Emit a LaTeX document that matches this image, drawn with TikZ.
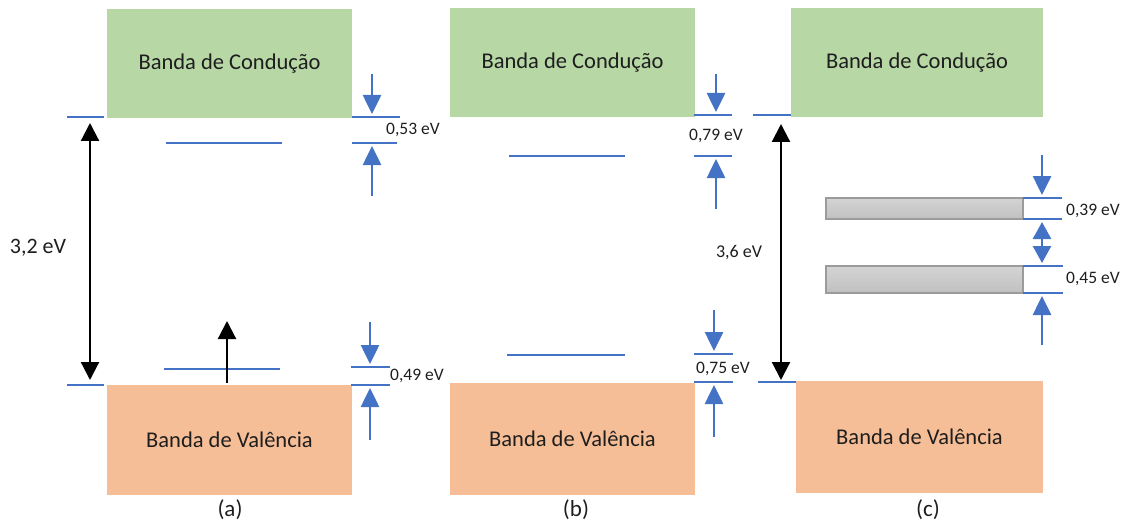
\documentclass[tikz,border=0pt]{standalone}
\usepackage{fontspec}
\setmainfont{Carlito}
\usetikzlibrary{arrows.meta}
\definecolor{cgreen}{RGB}{183,215,165}
\definecolor{corange}{RGB}{246,190,151}
\definecolor{cblue}{RGB}{68,114,196}
\definecolor{cgraytop}{RGB}{212,212,212}
\definecolor{cgraybot}{RGB}{192,192,192}
\definecolor{cgrayline}{RGB}{155,155,155}
\definecolor{ctext}{RGB}{30,30,30}
\begin{document}
\begin{tikzpicture}[x=1pt,y=-1pt,
  band/.style={draw=none,inner sep=0pt,outer sep=0pt,anchor=north west,
    text=ctext,font=\fontsize{22.5}{26}\selectfont},
  cband/.style={band,fill=cgreen},
  vband/.style={band,fill=corange},
  lvl/.style={cblue,line width=2.6pt},
  barrow/.style={cblue,line width=2.6pt,-{Triangle[width=18pt,length=19pt]}},
  karrow/.style={black,line width=2.2pt,-{Triangle[width=18pt,length=18pt]}},
  kdarrow/.style={black,line width=2.2pt,{Triangle[width=18pt,length=18pt]}-{Triangle[width=18pt,length=18pt]}},
  bdarrow/.style={cblue,line width=2.6pt,{Triangle[width=18pt,length=17pt]}-{Triangle[width=18pt,length=17pt]}},
  gaptxt/.style={text=ctext,font=\fontsize{17.5}{20}\selectfont,inner sep=0pt},
  bigtxt/.style={text=ctext,font=\fontsize{22}{26}\selectfont,inner sep=0pt},
  captxt/.style={text=ctext,font=\fontsize{23}{26}\selectfont,inner sep=0pt},
  barbox/.style={draw=cgrayline,line width=2pt,top color=cgraytop,bottom color=cgraybot,
    inner sep=0pt,outer sep=0pt,anchor=north west,minimum width=197pt,minimum height=21pt}
]
\path[use as bounding box] (0,0) rectangle (1124,524);

% ---------- (a) ----------
\node[cband,minimum width=245pt,minimum height=109pt] (ca) at (107,9) {Banda de Condução};
\node[vband,minimum width=245pt,minimum height=110pt] (va) at (107,385) {Banda de Valência};
\coordinate (atl1) at (67,117); \coordinate (atl2) at (104,117);
\coordinate (abl1) at (67,385); \coordinate (abl2) at (104,385);
\draw[lvl] (atl1) -- (atl2);
\draw[lvl] (abl1) -- (abl2);
\coordinate (agt) at (90,123); \coordinate (agb) at (90,380);
\draw[kdarrow] (agt) -- (agb);
\node[bigtxt] (lga) at (38,248) {3,2 eV};
\coordinate (ad1a) at (166,143); \coordinate (ad1b) at (282,143);
\coordinate (ad2a) at (164,369); \coordinate (ad2b) at (280,369);
\draw[lvl] (ad1a) -- (ad1b);
\draw[lvl] (ad2a) -- (ad2b);
\coordinate (aex0) at (227,383); \coordinate (aex1) at (227,321);
\draw[karrow] (aex0) -- (aex1);
% right scale, top
\coordinate (ar1a) at (352,117); \coordinate (ar1b) at (400,117);
\coordinate (ar2a) at (352,143); \coordinate (ar2b) at (397,143);
\draw[lvl] (ar1a) -- (ar1b);
\draw[lvl] (ar2a) -- (ar2b);
\coordinate (aa1s) at (372,74);  \coordinate (aa1e) at (372,114);
\coordinate (aa2s) at (372,196); \coordinate (aa2e) at (372,146);
\draw[barrow] (aa1s) -- (aa1e);
\draw[barrow] (aa2s) -- (aa2e);
\node[gaptxt] (la53) at (413,130) {0,53 eV};
% right scale, bottom
\coordinate (ar3a) at (351,367); \coordinate (ar3b) at (390,367);
\coordinate (ar4a) at (351,385); \coordinate (ar4b) at (390,385);
\draw[lvl] (ar3a) -- (ar3b);
\draw[lvl] (ar4a) -- (ar4b);
\coordinate (aa3s) at (370,322); \coordinate (aa3e) at (370,364);
\coordinate (aa4s) at (370,440); \coordinate (aa4e) at (370,388);
\draw[barrow] (aa3s) -- (aa3e);
\draw[barrow] (aa4s) -- (aa4e);
\node[gaptxt] (la49) at (417,376) {0,49 eV};
\node[captxt] (capa) at (230,510) {(a)};

% ---------- (b) ----------
\node[cband,minimum width=245pt,minimum height=109pt] (cb) at (450,8) {Banda de Condução};
\node[vband,minimum width=245pt,minimum height=112pt] (vb) at (450,383) {Banda de Valência};
\coordinate (bd1a) at (509,156); \coordinate (bd1b) at (625,156);
\coordinate (bd2a) at (507,355); \coordinate (bd2b) at (625,355);
\draw[lvl] (bd1a) -- (bd1b);
\draw[lvl] (bd2a) -- (bd2b);
\coordinate (br1a) at (694,115); \coordinate (br1b) at (732,115);
\coordinate (br2a) at (694,156); \coordinate (br2b) at (732,156);
\draw[lvl] (br1a) -- (br1b);
\draw[lvl] (br2a) -- (br2b);
\coordinate (ba1s) at (716,74);  \coordinate (ba1e) at (716,112);
\coordinate (ba2s) at (716,209); \coordinate (ba2e) at (716,159);
\draw[barrow] (ba1s) -- (ba1e);
\draw[barrow] (ba2s) -- (ba2e);
\node[gaptxt] (lb79) at (716,136) {0,79 eV};
\coordinate (br3a) at (694,354); \coordinate (br3b) at (733,354);
\coordinate (br4a) at (694,382); \coordinate (br4b) at (733,382);
\draw[lvl] (br3a) -- (br3b);
\draw[lvl] (br4a) -- (br4b);
\coordinate (ba3s) at (714,310); \coordinate (ba3e) at (714,351);
\coordinate (ba4s) at (714,437); \coordinate (ba4e) at (714,385);
\draw[barrow] (ba3s) -- (ba3e);
\draw[barrow] (ba4s) -- (ba4e);
\node[gaptxt] (lb75) at (723,369) {0,75 eV};
\node[captxt] (capb) at (576,510) {(b)};

% ---------- (c) ----------
\node[cband,minimum width=252pt,minimum height=109pt] (cc) at (791,8) {Banda de Condução};
\node[vband,minimum width=247pt,minimum height=112pt] (vc) at (796,381) {Banda de Valência};
\coordinate (ctl1) at (753,115); \coordinate (ctl2) at (791,115);
\coordinate (cbl1) at (758,382); \coordinate (cbl2) at (796,382);
\draw[lvl] (ctl1) -- (ctl2);
\draw[lvl] (cbl1) -- (cbl2);
\coordinate (cgt) at (781,124); \coordinate (cgb) at (781,380);
\draw[kdarrow] (cgt) -- (cgb);
\node[bigtxt,font=\fontsize{18}{22}\selectfont] (lgc) at (739,253) {3,6 eV};
\node[barbox] (bar1) at (826,198) {};
\node[barbox,minimum height=27pt] (bar2) at (826,266) {};
\coordinate (cr1a) at (1023,198); \coordinate (cr1b) at (1062,198);
\coordinate (cr2a) at (1023,219); \coordinate (cr2b) at (1062,219);
\coordinate (cr3a) at (1023,266); \coordinate (cr3b) at (1063,266);
\coordinate (cr4a) at (1023,293); \coordinate (cr4b) at (1063,293);
\draw[lvl] (cr1a) -- (cr1b);
\draw[lvl] (cr2a) -- (cr2b);
\draw[lvl] (cr3a) -- (cr3b);
\draw[lvl] (cr4a) -- (cr4b);
\coordinate (ca1s) at (1042,155); \coordinate (ca1e) at (1042,195);
\coordinate (cm1) at (1042,222);  \coordinate (cm2) at (1042,263);
\coordinate (ca3s) at (1042,345); \coordinate (ca3e) at (1042,296);
\draw[barrow] (ca1s) -- (ca1e);
\draw[bdarrow] (cm1) -- (cm2);
\draw[barrow] (ca3s) -- (ca3e);
\node[gaptxt] (lc39) at (1093,211) {0,39 eV};
\node[gaptxt] (lc45) at (1093,279) {0,45 eV};
\node[captxt] (capc) at (928,510) {(c)};
\end{tikzpicture}
\end{document}
